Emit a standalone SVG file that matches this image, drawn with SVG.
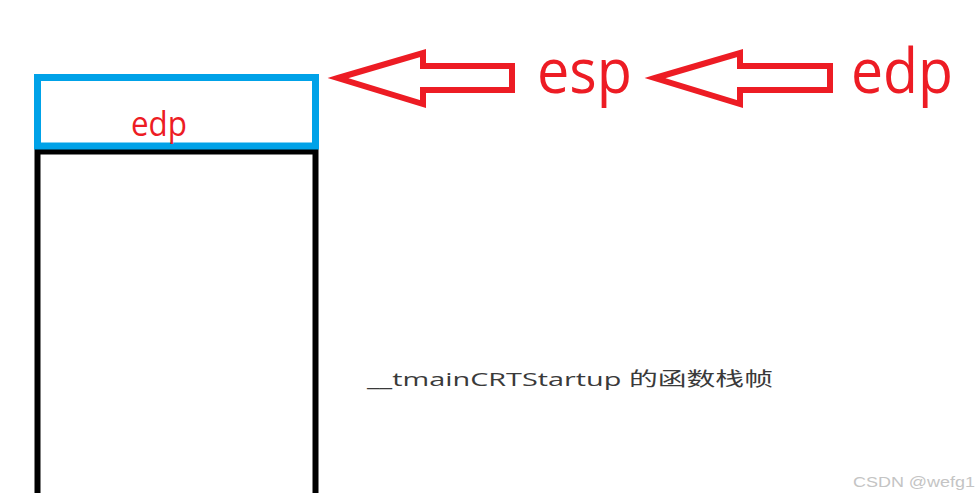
<svg xmlns="http://www.w3.org/2000/svg" width="979" height="493" viewBox="0 0 979 493">
<style>
.arrow{fill:none;stroke:#ed1c24;stroke-width:6;stroke-linejoin:miter}
.red{fill:#ed1c24;font-family:"Open Sans","Noto Sans","Liberation Sans",sans-serif}
</style>
<rect width="979" height="493" fill="#ffffff"/>
<g id="stack-frame">
<rect x="37.5" y="151.5" width="278" height="360" fill="none" stroke="#000000" stroke-width="6"/>
</g>
<g id="edp-slot">
<rect x="37.5" y="77.5" width="278" height="68.5" fill="#ffffff" stroke="#00a2e8" stroke-width="7"/>
<text class="red" x="131" y="136" font-size="34" textLength="56" lengthAdjust="spacingAndGlyphs">edp</text>
</g>
<g id="connectors">
<polygon class="arrow" points="338,78 423,53 423,66 512,66 512,90 423,90 423,104"/>
<polygon class="arrow" points="655,78 740,53 740,66 830,66 830,90 740,90 740,104"/>
</g>
<g id="esp-label">
<text class="red" x="537" y="93" font-size="62" textLength="95" lengthAdjust="spacingAndGlyphs">esp</text>
</g>
<g id="edp-label">
<text class="red" x="851" y="93" font-size="62" textLength="102" lengthAdjust="spacingAndGlyphs">edp</text>
</g>
<g id="caption">
<text x="367" y="386" font-size="19" fill="#3a3a3a" font-family="'Open Sans','Noto Sans','Noto Sans CJK SC',sans-serif" textLength="406" lengthAdjust="spacingAndGlyphs">__tmainCRTStartup 的函数栈帧</text>
</g>
<text x="853" y="487" font-size="15" fill="#c4c4c4" font-family="'Liberation Sans',sans-serif" textLength="122" lengthAdjust="spacingAndGlyphs">CSDN @wefg1</text>
</svg>
